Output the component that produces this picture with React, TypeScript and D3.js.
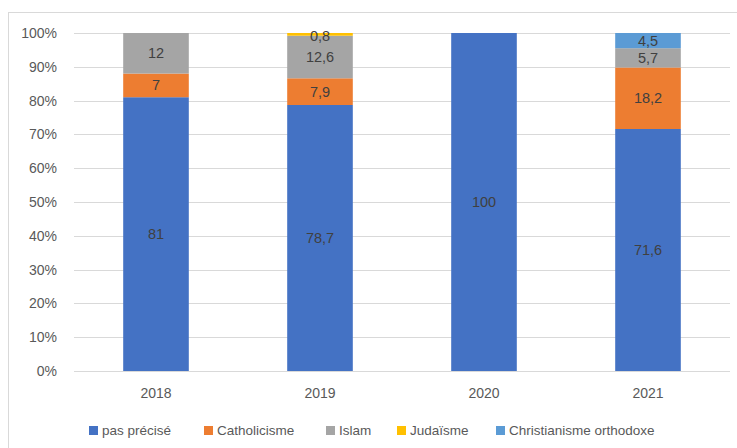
import React from "react";
import * as d3 from "d3";

const years = ["2018", "2019", "2020", "2021"];
const seriesNames = ["pas précisé", "Catholicisme", "Islam", "Judaïsme", "Christianisme orthodoxe"];
const seriesColors = ["#4472C4", "#ED7D31", "#A5A5A5", "#FFC000", "#5B9BD5"];
const pasPrecise = [81, 78.7, 100, 71.6];
const catholicisme = [7, 7.9, 0, 18.2];
const islam = [12, 12.6, 0, 5.7];
const judaisme = [0, 0.8, 0, 0];
const orthodoxe = [0, 0, 0, 4.5];
const yTicks = [0, 10, 20, 30, 40, 50, 60, 70, 80, 90, 100];
const legendX = [89, 204, 326, 397, 496];

const values = [pasPrecise, catholicisme, islam, judaisme, orthodoxe];

export default function App() {
  const W = 737, H = 448;
  const x = d3.scaleBand<string>().domain(years).range([74, 730]).paddingInner(0.6).paddingOuter(0.3);
  const y = d3.scaleLinear().domain([0, 100]).range([371, 33]);
  const rows = years.map((yr, i) => {
    const o: any = { year: yr };
    seriesNames.forEach((s, k) => (o[s] = values[k][i]));
    return o;
  });
  const stacked = d3.stack<any>().keys(seriesNames)(rows);
  const font = "'Liberation Sans', Arial, sans-serif";
  const fmt = (v: number) => String(v).replace(".", ",");
  return (
    <svg width={W} height={H} style={{ position: "absolute", left: 0, top: 0 }} fontFamily={font}>
      <rect x={0} y={0} width={W} height={H} fill="#fff" />
      <rect x={8.5} y={12.5} width={W + 20} height={H + 20} fill="none" stroke="#D9D9D9" strokeWidth={1} />
      {yTicks.map((t) => (
        <g key={t}>
          <line x1={74} x2={730} y1={Math.round(y(t)) + 0.5} y2={Math.round(y(t)) + 0.5} stroke="#D9D9D9" strokeWidth={1} />
          <text x={57} y={y(t) + 5} textAnchor="end" fontSize={14} fill="#595959">{t}%</text>
        </g>
      ))}
      {stacked.map((layer, k) => (
        <g key={layer.key} fill={seriesColors[k]}>
          {layer.map((d, i) => {
            const h = y(d[0]) - y(d[1]);
            if (h <= 0) return null;
            return <rect key={i} x={x(years[i])} width={x.bandwidth()} y={y(d[1])} height={h} />;
          })}
        </g>
      ))}
      {stacked.map((layer, k) => (
        <g key={"l" + layer.key}>
          {layer.map((d, i) => {
            const v = values[k][i];
            if (!v) return null;
            const cy = y((d[0] + d[1]) / 2);
            return (
              <text key={i} x={x(years[i])! + x.bandwidth() / 2} y={Math.max(cy, 36) + 5} textAnchor="middle" fontSize={14.5} fill="#404040">
                {fmt(v)}
              </text>
            );
          })}
        </g>
      ))}
      {years.map((yr) => (
        <text key={yr} x={x(yr)! + x.bandwidth() / 2} y={398} textAnchor="middle" fontSize={14} fill="#595959">{yr}</text>
      ))}
      {seriesNames.map((s, k) => (
        <g key={s}>
          <rect x={legendX[k]} y={426} width={9} height={9} fill={seriesColors[k]} />
          <text x={legendX[k] + 13} y={435} fontSize={13.5} fill="#595959">{s}</text>
        </g>
      ))}
    </svg>
  );
}
